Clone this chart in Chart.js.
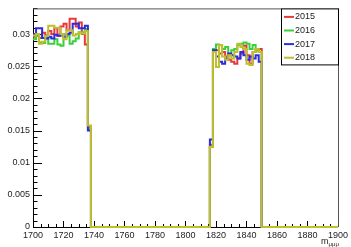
<!DOCTYPE html>
<html>
<head>
<meta charset="utf-8">
<script src="https://cdn.jsdelivr.net/npm/chart.js@4"></script>
<style>
  html, body { margin: 0; padding: 0; background: #fff; }
  #wrap { width: 351px; height: 247px; position: relative; }
</style>
</head>
<body>
<div id="wrap"><canvas id="massChart" width="351" height="247"></canvas></div>
<script>
// histogram blocks, 2 MeV bins
const binWidth = 2;
const leftStart = 1700;   // low edge of first bin in left block
const rightStart = 1816;  // low edge of first bin in right block
const xMin = 1700;
const xMax = 1900;

const years = ['2015', '2016', '2017', '2018'];
const colors = ['#e8383a', '#3ccf3c', '#2b2be0', '#bfbf2a'];

const left2015 = [0.0296, 0.0300, 0.0294, 0.0302, 0.0298, 0.0305, 0.0300, 0.0309, 0.0297, 0.0312, 0.0316, 0.0306, 0.0324, 0.0324, 0.0312, 0.0318, 0.0300, 0.0284, 0.0156];
const left2016 = [0.0292, 0.0297, 0.0287, 0.0286, 0.0293, 0.0285, 0.0285, 0.0292, 0.0284, 0.0282, 0.0296, 0.0298, 0.0285, 0.0289, 0.0293, 0.0303, 0.0303, 0.0308, 0.0153];
const left2017 = [0.0300, 0.0309, 0.0309, 0.0294, 0.0293, 0.0296, 0.0293, 0.0299, 0.0298, 0.0300, 0.0296, 0.0300, 0.0302, 0.0316, 0.0316, 0.0309, 0.0309, 0.0313, 0.0150];
const left2018 = [0.0298, 0.0300, 0.0285, 0.0288, 0.0297, 0.0313, 0.0313, 0.0310, 0.0310, 0.0300, 0.0292, 0.0306, 0.0306, 0.0298, 0.0300, 0.0302, 0.0301, 0.0305, 0.0158];

const right2015 = [0.0128, 0.0272, 0.0275, 0.0270, 0.0272, 0.0265, 0.0260, 0.0257, 0.0254, 0.0262, 0.0270, 0.0282, 0.0267, 0.0254, 0.0272, 0.0277, 0.0277];
const right2016 = [0.0125, 0.0277, 0.0284, 0.0283, 0.0277, 0.0280, 0.0267, 0.0275, 0.0277, 0.0283, 0.0285, 0.0287, 0.0285, 0.0277, 0.0283, 0.0275, 0.0272];
const right2017 = [0.0136, 0.0275, 0.0265, 0.0257, 0.0254, 0.0262, 0.0270, 0.0267, 0.0265, 0.0262, 0.0272, 0.0267, 0.0260, 0.0265, 0.0262, 0.0267, 0.0257];
const right2018 = [0.0125, 0.0272, 0.0249, 0.0283, 0.0265, 0.0260, 0.0267, 0.0262, 0.0272, 0.0285, 0.0280, 0.0277, 0.0254, 0.0252, 0.0272, 0.0277, 0.0272];

const xTicks = [1700, 1720, 1740, 1760, 1780, 1800, 1820, 1840, 1860, 1880, 1900];
const yTicks = [0, 0.005, 0.01, 0.015, 0.02, 0.025, 0.03];
const xMinorStep = 5;
const yMinorStep = 0.001;

function histPoints(leftVals, rightVals) {
  const pts = [];
  leftVals.forEach((v, i) => pts.push({ x: leftStart + i * binWidth, y: v }));
  pts.push({ x: leftStart + leftVals.length * binWidth, y: 0 });
  rightVals.forEach((v, i) => pts.push({ x: rightStart + i * binWidth, y: v }));
  pts.push({ x: rightStart + rightVals.length * binWidth, y: 0 });
  pts.push({ x: xMax, y: 0 });
  return pts;
}

const series = [
  [left2015, right2015],
  [left2016, right2016],
  [left2017, right2017],
  [left2018, right2018],
];

const rootStyle = {
  id: 'rootStyle',
  beforeDatasetsDraw(chart) {
    const { ctx, chartArea: a, scales: { x, y } } = chart;
    ctx.save();
    ctx.strokeStyle = '#000';
    ctx.lineWidth = 1;
    ctx.beginPath();
    // x ticks pointing up
    for (let v = xMin; v <= xMax + 1e-9; v += xMinorStep) {
      const px = Math.round(x.getPixelForValue(v)) + 0.5;
      const len = xTicks.includes(v) ? 6 : 3;
      ctx.moveTo(px, a.bottom);
      ctx.lineTo(px, a.bottom - len);
    }
    // y ticks pointing right
    for (let i = 0; i * yMinorStep <= y.max + 1e-9; i++) {
      const v = i * yMinorStep;
      const py = Math.round(y.getPixelForValue(v)) + 0.5;
      const len = i % 5 === 0 ? 9 : 4.5;
      ctx.moveTo(a.left, py);
      ctx.lineTo(a.left + len, py);
    }
    ctx.stroke();
    ctx.restore();
  },
  afterDraw(chart) {
    const { ctx, chartArea: a } = chart;
    ctx.save();
    // frame top/right
    ctx.strokeStyle = '#555';
    ctx.lineWidth = 1;
    ctx.beginPath();
    ctx.moveTo(a.left, a.top + 0.5);
    ctx.lineTo(a.right + 0.5, a.top + 0.5);
    ctx.lineTo(a.right + 0.5, a.bottom);
    ctx.stroke();

    // legend box
    const lw = 57, lh = 56;
    const lx = a.right - lw, ly = a.top;
    ctx.fillStyle = '#fff';
    ctx.fillRect(lx, ly, lw, lh);
    ctx.strokeStyle = '#000';
    ctx.strokeRect(lx + 0.5, ly + 0.5, lw, lh);
    ctx.font = '9px "Liberation Sans", Arial, sans-serif';
    ctx.textBaseline = 'middle';
    ctx.textAlign = 'left';
    years.forEach((yr, i) => {
      const ey = ly + 8.5 + i * 13.6;
      ctx.strokeStyle = colors[i];
      ctx.lineWidth = 2;
      ctx.beginPath();
      ctx.moveTo(lx + 3, ey);
      ctx.lineTo(lx + 13, ey);
      ctx.stroke();
      ctx.fillStyle = '#222';
      ctx.fillText(yr, lx + 14, ey);
    });

    // x axis title
    ctx.fillStyle = '#222';
    ctx.textAlign = 'left';
    ctx.textBaseline = 'alphabetic';
    ctx.font = '9px "Liberation Sans", Arial, sans-serif';
    ctx.fillText('m', a.right - 17, a.bottom + 17);
    ctx.font = '6px "Liberation Sans", Arial, sans-serif';
    ctx.fillText('\u03bc\u03bc\u03bc', a.right - 9.5, a.bottom + 19);
    ctx.restore();
  },
};

new Chart(document.getElementById('massChart').getContext('2d'), {
  type: 'line',
  data: {
    datasets: series.map((s, i) => ({
      label: years[i],
      data: histPoints(s[0], s[1]),
      borderColor: colors[i],
      borderWidth: 2,
      stepped: 'before',
      pointRadius: 0,
      fill: false,
      clip: 3,
      order: series.length - 1 - i,
    })),
  },
  options: {
    responsive: false,
    animation: false,
    events: [],
    layout: { padding: { left: 0, top: 6, right: 12, bottom: 0 } },
    plugins: { legend: { display: false }, tooltip: { enabled: false } },
    scales: {
      x: {
        type: 'linear',
        min: xMin,
        max: xMax,
        afterBuildTicks: s => { s.ticks = xTicks.map(v => ({ value: v })); },
        afterFit: s => { s.height = 20; },
        grid: { display: false, drawTicks: false },
        border: { display: true, color: '#000', width: 1 },
        ticks: {
          autoSkip: false,
          maxRotation: 0,
          padding: 3,
          color: '#222',
          font: { family: '"Liberation Sans", Arial, sans-serif', size: 9 },
          callback: v => String(v),
        },
      },
      y: {
        type: 'linear',
        min: 0,
        max: 0.034,
        afterBuildTicks: s => { s.ticks = yTicks.map(v => ({ value: v })); },
        afterFit: s => { s.width = 33; },
        grid: { display: false, drawTicks: false },
        border: { display: true, color: '#000', width: 1 },
        ticks: {
          padding: 3,
          color: '#222',
          font: { family: '"Liberation Sans", Arial, sans-serif', size: 9 },
          callback: v => String(+Number(v).toFixed(3)),
        },
      },
    },
  },
  plugins: [rootStyle],
});
</script>
</body>
</html>
